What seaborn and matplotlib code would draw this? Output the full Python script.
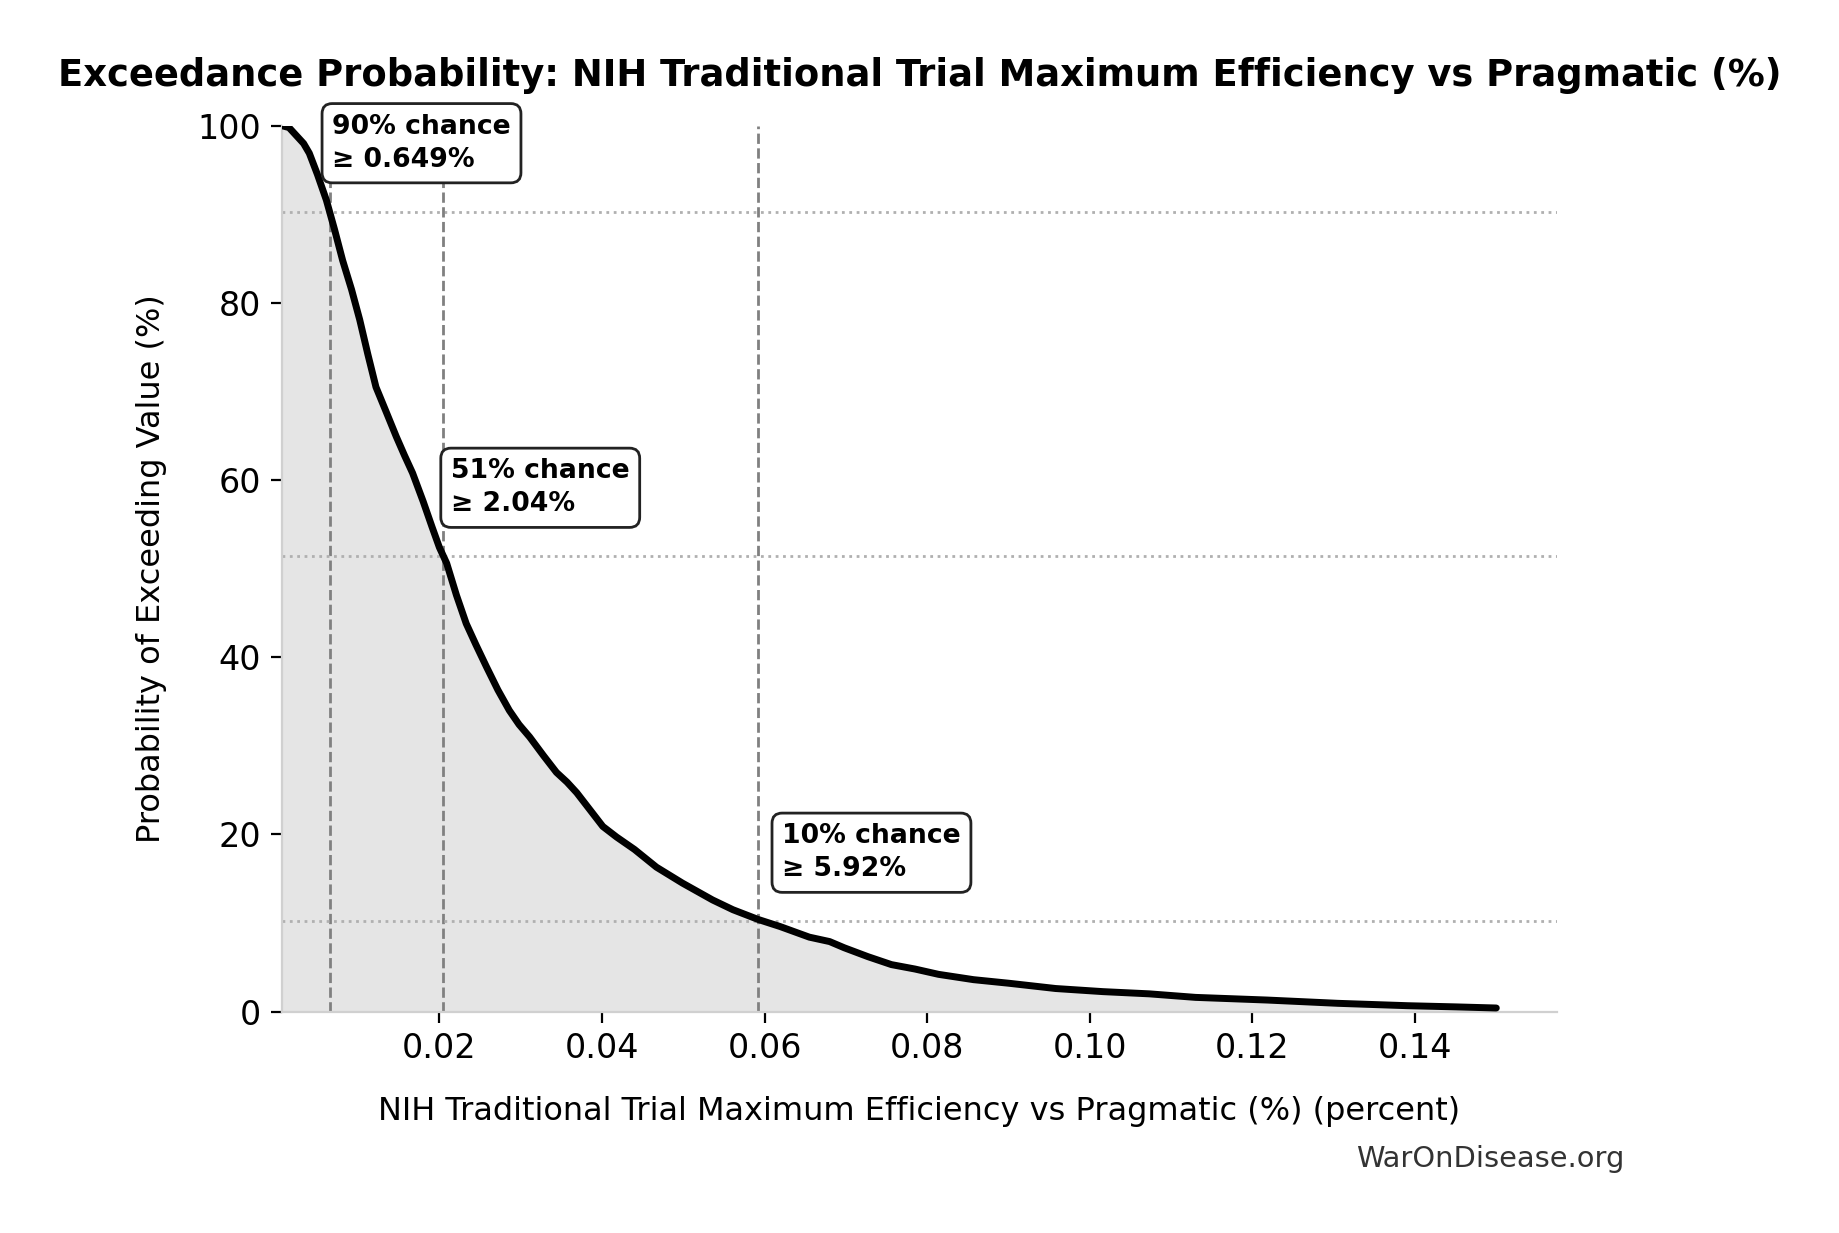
import numpy as np
import pandas as pd
import matplotlib
matplotlib.use("Agg")
import matplotlib.pyplot as plt
import seaborn as sns

# exceedance curve (value in fraction, probability in %)
efficiency = [0.00065, 0.0015, 0.0025, 0.0033, 0.0040, 0.0050, 0.0061, 0.0071,
              0.0081, 0.0092, 0.0102, 0.0112, 0.0122, 0.0135, 0.0147, 0.0157,
              0.0167, 0.0180, 0.0191, 0.0200, 0.0209, 0.0221, 0.0233, 0.0245,
              0.0258, 0.0272, 0.0286, 0.0298, 0.0311, 0.0328, 0.0344, 0.0357,
              0.0369, 0.0385, 0.0401, 0.0418, 0.0440, 0.0467, 0.0499, 0.0536,
              0.0561, 0.0592, 0.0619, 0.0655, 0.0680, 0.0698, 0.0727, 0.0756,
              0.0785, 0.0814, 0.0857, 0.0900, 0.0958, 0.1016, 0.1073, 0.1130,
              0.1218, 0.1305, 0.1391, 0.1449, 0.1500]
exceed_pct = [100.0, 99.8, 98.8, 98.0, 96.9, 94.5, 91.6, 88.3,
              84.8, 81.5, 78.1, 74.2, 70.5, 67.6, 64.9, 62.8,
              60.8, 57.6, 54.7, 52.4, 50.6, 47.0, 43.8, 41.4,
              38.9, 36.3, 34.0, 32.4, 31.0, 28.9, 27.0, 25.9,
              24.7, 22.8, 20.9, 19.7, 18.3, 16.3, 14.5, 12.6,
              11.5, 10.4, 9.6, 8.4, 7.9, 7.2, 6.2, 5.3,
              4.8, 4.2, 3.6, 3.2, 2.6, 2.25, 2.0, 1.6,
              1.3, 0.93, 0.66, 0.53, 0.4]

# marked percentiles
mark_values = [0.00649, 0.0204, 0.0592]
mark_probs = [90.3, 51.4, 10.2]
mark_labels = ["90% chance\n≥ 0.649%", "51% chance\n≥ 2.04%", "10% chance\n≥ 5.92%"]

df = pd.DataFrame({"value": efficiency, "prob": exceed_pct})

sns.set_style("ticks")
plt.rcParams['font.family'] = ['DejaVu Sans']
plt.rcParams['text.color'] = 'black'
plt.rcParams['axes.labelcolor'] = 'black'
plt.rcParams['xtick.color'] = 'black'
plt.rcParams['ytick.color'] = 'black'

fig = plt.figure(figsize=(9.2, 6.165), dpi=200)
ax = fig.add_axes([0.1533, 0.1796, 0.6929, 0.7184])

ax.fill_between(df["value"], df["prob"], 0, color="#e5e5e5", zorder=1)
sns.lineplot(data=df, x="value", y="prob", ax=ax, color="black", linewidth=2.5, zorder=3)

for v, p, lab in zip(mark_values, mark_probs, mark_labels):
    ax.axvline(v, color="gray", linestyle="--", linewidth=1.0, zorder=2)
    ax.axhline(p, color="#b0b0b0", linestyle=":", linewidth=1.0, zorder=2)
    ax.text(v * 1.05, p + 4.4, lab, fontsize=9.6, fontweight="bold", va="bottom", ha="left",
            linespacing=1.35,
            bbox=dict(boxstyle="round,pad=0.38", facecolor="white", edgecolor="#222222"),
            zorder=5)

xmin, xmax = min(efficiency), max(efficiency)
ax.set_xlim(xmin, xmax + 0.05 * (xmax - xmin))
ax.set_ylim(0, 100)
ax.set_xticks([0.02, 0.04, 0.06, 0.08, 0.10, 0.12, 0.14])
ax.set_xticklabels(["0.02", "0.04", "0.06", "0.08", "0.10", "0.12", "0.14"])
ax.set_yticks([0, 20, 40, 60, 80, 100])
ax.tick_params(labelsize=12, color="black", length=4)

for s in ["top", "right"]:
    ax.spines[s].set_visible(False)
for s in ["left", "bottom"]:
    ax.spines[s].set_color("#d0d0d0")

ax.set_xlabel("NIH Traditional Trial Maximum Efficiency vs Pragmatic (%) (percent)", fontsize=11.5, labelpad=11)
ax.set_ylabel("Probability of Exceeding Value (%)", fontsize=11.5, labelpad=11)

fig.suptitle("Exceedance Probability: NIH Traditional Trial Maximum Efficiency vs Pragmatic (%)",
             fontsize=13.3, fontweight="bold", x=0.5, y=0.939, va="center")
fig.text(0.81, 0.06, "WarOnDisease.org", fontsize=10.4, color="#333333", ha="center", va="center")

fig.savefig("out.png", dpi=200)
